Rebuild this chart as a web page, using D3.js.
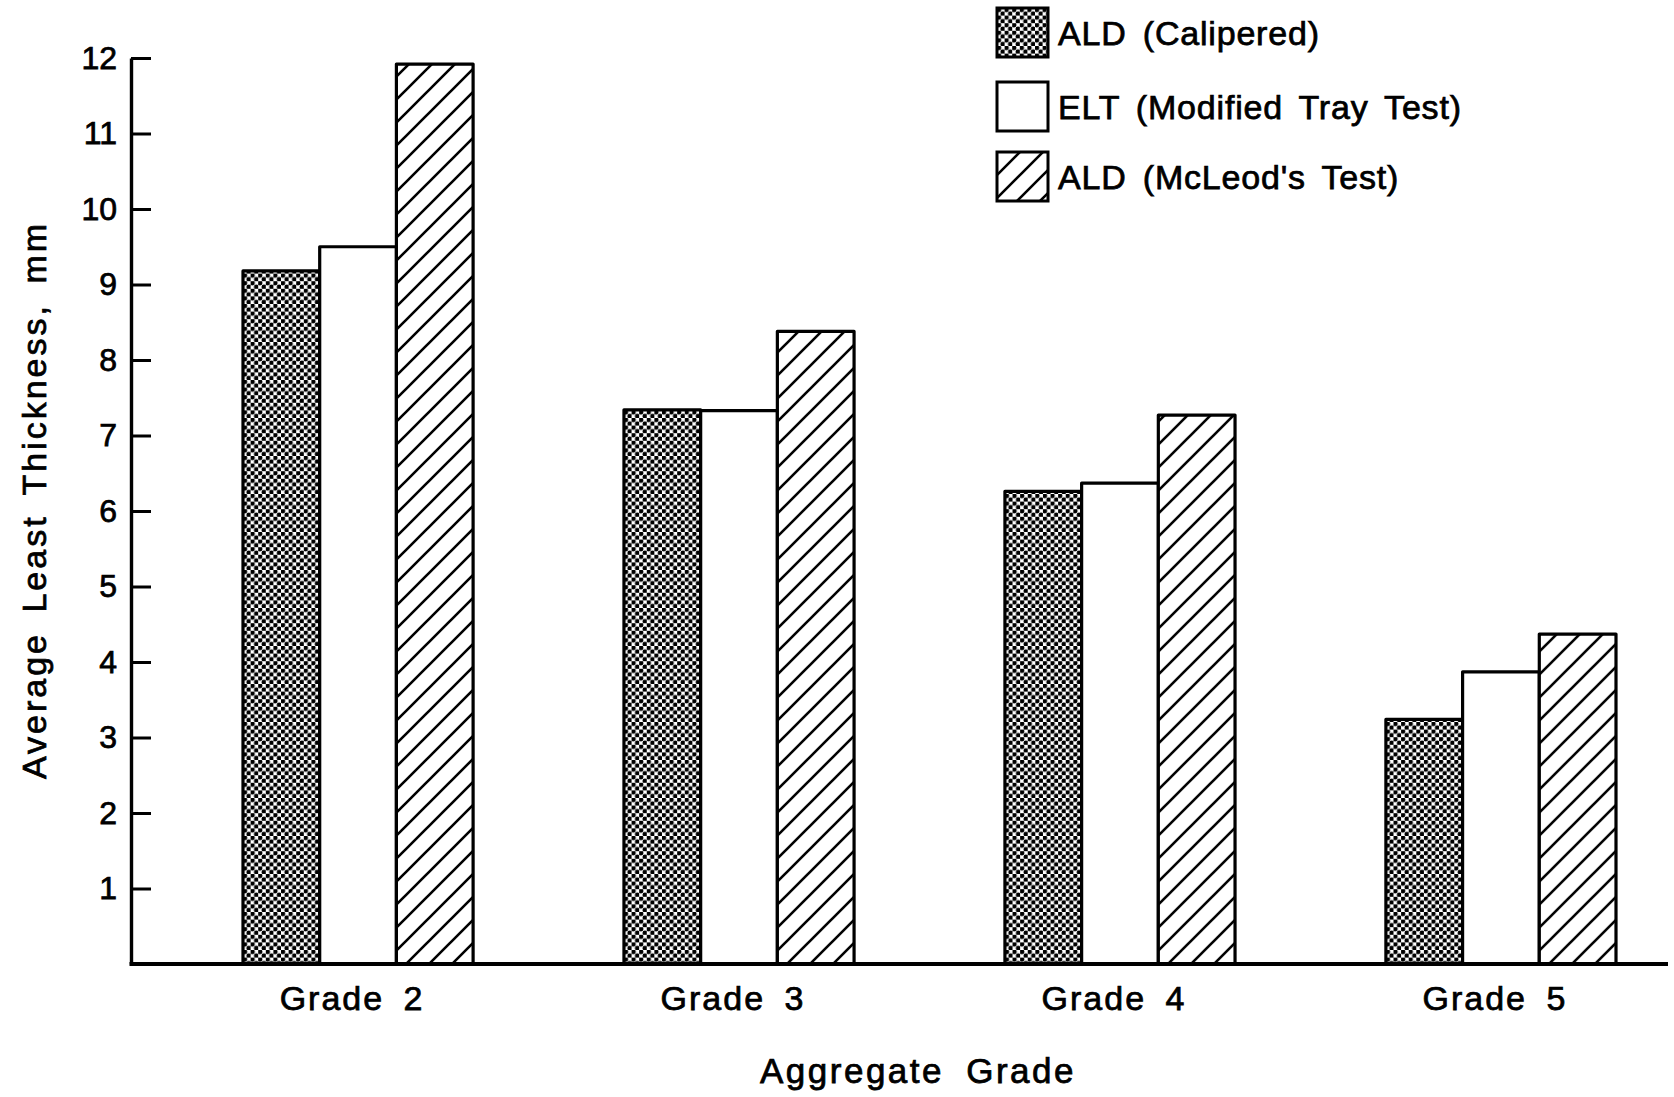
<!DOCTYPE html>
<html>
<head>
<meta charset="utf-8">
<script src="https://cdn.jsdelivr.net/npm/d3@7"></script>
<style>
  html, body { margin: 0; padding: 0; background: #fff; }
  svg { display: block; }
  text { font-family: "Liberation Sans", Arial, Helvetica, sans-serif; fill: #000; stroke: #000; stroke-width: 0.75; }
</style>
</head>
<body>
<svg id="chart" width="1674" height="1097"></svg>
<script>
// ---- data ----
const categories = ["Grade 2", "Grade 3", "Grade 4", "Grade 5"];
const seriesNames = ["ALD (Calipered)", "ELT (Modified Tray Test)", "ALD (McLeod's Test)"];
const aldCalipered = [9.18, 7.34, 6.26, 3.24];
const eltTray = [9.50, 7.33, 6.37, 3.87];
const aldMcLeod = [11.92, 8.38, 7.27, 4.37];
const yTicks = [1, 2, 3, 4, 5, 6, 7, 8, 9, 10, 11, 12];
const xTitle = "Aggregate Grade";
const yTitle = "Average Least Thickness, mm";

const seriesValues = [aldCalipered, eltTray, aldMcLeod];
const fills = ["url(#dots)", "#ffffff", "url(#hatch)"];

const svg = d3.select("#chart");
const defs = svg.append("defs");

// dotted (halftone) pattern
const dots = defs.append("pattern").attr("id", "dots")
  .attr("patternUnits", "userSpaceOnUse").attr("width", 7.6).attr("height", 7.6);
dots.append("rect").attr("width", 7.6).attr("height", 7.6).attr("fill", "#fff");
dots.append("circle").attr("cx", 1.9).attr("cy", 1.9).attr("r", 2.35).attr("fill", "#000");
dots.append("circle").attr("cx", 5.7).attr("cy", 5.7).attr("r", 2.35).attr("fill", "#000");

// diagonal hatch pattern
const hs = 23;
const hatch = defs.append("pattern").attr("id", "hatch")
  .attr("patternUnits", "userSpaceOnUse").attr("width", hs).attr("height", hs);
hatch.append("rect").attr("width", hs).attr("height", hs).attr("fill", "#fff");
hatch.append("path")
  .attr("d", `M0,${hs} L${hs},0 M${-hs/4},${hs/4} L${hs/4},${-hs/4} M${hs*3/4},${hs*5/4} L${hs*5/4},${hs*3/4}`)
  .attr("stroke", "#000").attr("stroke-width", 2.6);

// ---- scales ----
const y = d3.scaleLinear().domain([0, 12]).range([964, 58]);
const x0 = d3.scaleBand().domain(categories).range([243, 1616]).paddingInner(0.396).paddingOuter(0);
const x1 = d3.scaleBand().domain(d3.range(seriesNames.length)).range([0, x0.bandwidth()]).padding(0);

const axisX = 131;

// ---- bars ----
const groups = svg.append("g").selectAll("g").data(categories).join("g")
  .attr("transform", d => `translate(${x0(d)},0)`);
groups.selectAll("rect")
  .data((c, ci) => seriesValues.map((vals, si) => ({ si, v: vals[ci] })))
  .join("rect")
  .attr("x", d => x1(d.si))
  .attr("y", d => y(d.v))
  .attr("width", x1.bandwidth())
  .attr("height", d => y(0) - y(d.v))
  .attr("fill", d => fills[d.si])
  .attr("stroke", "#000").attr("stroke-width", 3.2)
  .attr("stroke-linejoin", "round");

// ---- y axis ----
const yAxis = svg.append("g").attr("transform", `translate(${axisX},0)`)
  .call(d3.axisLeft(y).tickValues(yTicks).tickFormat(d3.format("d"))
    .tickSizeInner(-20).tickSizeOuter(0).tickPadding(14));
yAxis.select(".domain").attr("stroke", "#000").attr("stroke-width", 3.4);
yAxis.selectAll(".tick line").attr("stroke", "#000").attr("stroke-width", 3);
yAxis.selectAll(".tick text").attr("font-size", 32).attr("font-family", null);

// ---- x baseline & labels ----
svg.append("line").attr("x1", axisX - 1.5).attr("x2", 1668).attr("y1", y(0)).attr("y2", y(0))
  .attr("stroke", "#000").attr("stroke-width", 4);

const xAxis = svg.append("g").attr("transform", `translate(0,${y(0)})`)
  .call(d3.axisBottom(x0).tickSize(0).tickPadding(22));
xAxis.select(".domain").remove();
xAxis.selectAll(".tick text").attr("font-size", 34).attr("font-family", null)
  .attr("letter-spacing", 2).attr("word-spacing", 8).attr("dx", -6);

// ---- axis titles ----
svg.append("text").attr("x", 918).attr("y", 1083).attr("text-anchor", "middle")
  .attr("font-size", 35).attr("letter-spacing", 2.5).attr("word-spacing", 10).text(xTitle);
svg.append("text").attr("transform", "translate(46,500) rotate(-90)").attr("text-anchor", "middle")
  .attr("font-size", 34).attr("letter-spacing", 3).attr("word-spacing", 7).text(yTitle);

// ---- legend ----
const legendRows = [8, 82, 152];
const legend = svg.append("g").selectAll("g").data(seriesNames).join("g")
  .attr("transform", (d, i) => `translate(997,${legendRows[i]})`);
legend.append("rect").attr("width", 51).attr("height", 49)
  .attr("fill", (d, i) => fills[i]).attr("stroke", "#000").attr("stroke-width", 3);
legend.append("text").attr("x", 61).attr("y", 37).attr("font-size", 34)
  .attr("letter-spacing", 0.8).attr("word-spacing", 6).text(d => d);
</script>
</body>
</html>
